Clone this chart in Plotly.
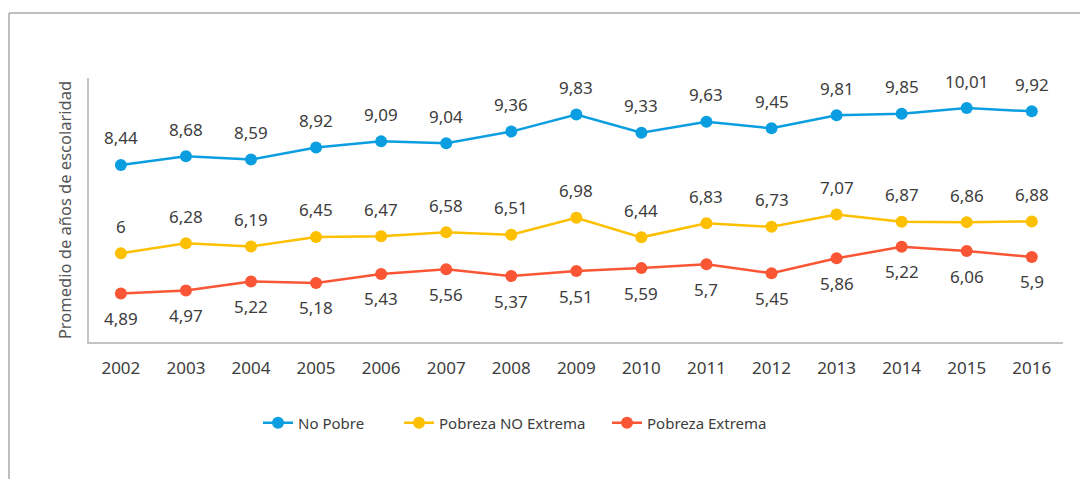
import plotly.graph_objects as go

years = [2002, 2003, 2004, 2005, 2006, 2007, 2008, 2009, 2010, 2011, 2012, 2013, 2014, 2015, 2016]

no_pobre = [8.44, 8.68, 8.59, 8.92, 9.09, 9.04, 9.36, 9.83, 9.33, 9.63, 9.45, 9.81, 9.85, 10.01, 9.92]
no_pobre_labels = ["8,44", "8,68", "8,59", "8,92", "9,09", "9,04", "9,36", "9,83", "9,33", "9,63", "9,45", "9,81", "9,85", "10,01", "9,92"]

pobreza_no_extrema = [6.0, 6.28, 6.19, 6.45, 6.47, 6.58, 6.51, 6.98, 6.44, 6.83, 6.73, 7.07, 6.87, 6.86, 6.88]
pobreza_no_extrema_labels = ["6", "6,28", "6,19", "6,45", "6,47", "6,58", "6,51", "6,98", "6,44", "6,83", "6,73", "7,07", "6,87", "6,86", "6,88"]

# plotted positions (2014 point is drawn at ~6.18 although labelled "5,22" in the original)
pobreza_extrema = [4.89, 4.97, 5.22, 5.18, 5.43, 5.56, 5.37, 5.51, 5.59, 5.70, 5.45, 5.86, 6.18, 6.06, 5.90]
pobreza_extrema_labels = ["4,89", "4,97", "5,22", "5,18", "5,43", "5,56", "5,37", "5,51", "5,59", "5,7", "5,45", "5,86", "5,22", "6,06", "5,9"]

series = [
    ("No Pobre", no_pobre, no_pobre_labels, "#0a9ee0", 27, "legend"),
    ("Pobreza NO Extrema", pobreza_no_extrema, pobreza_no_extrema_labels, "#fcc000", 27, "legend2"),
    ("Pobreza Extrema", pobreza_extrema, pobreza_extrema_labels, "#fa5535", -25, "legend3"),
]

FONT = "Noto Sans"
TEXT_COLOR = "#3d3d3d"

fig = go.Figure()
annotations = []
for name, vals, labels, color, shift, leg in series:
    fig.add_trace(go.Scatter(
        x=years, y=vals, name=name, mode="lines+markers",
        line=dict(color=color, width=2.5),
        marker=dict(color=color, size=12),
        legend=leg,
    ))
    for xv, yv, t in zip(years, vals, labels):
        annotations.append(dict(
            x=xv, y=yv, text=t, showarrow=False, yshift=shift,
            font=dict(family=FONT, size=17, color=TEXT_COLOR),
        ))

# page offset of the figure inside the browser window
OFF = 8
W, H = 1080, 471
PL, PR, PT, PB = 89, 1063, 78, 342   # plot area in window pixels
L = PL - OFF
T = PT - OFF
R = W - (PR - OFF)
B = H - (PB - OFF)
pw = PR - PL
ph = PB - PT

def px_x(x):
    return (x - PL) / pw

def px_y(y):
    return (PB - y) / ph

legend_common = dict(
    orientation="h", yanchor="middle", xanchor="left", y=px_y(423),
    font=dict(family=FONT, size=15, color=TEXT_COLOR),
    bgcolor="rgba(0,0,0,0)", borderwidth=0,
)

fig.update_layout(
    width=W, height=H, autosize=False,
    margin=dict(l=L, r=R, t=T, b=B),
    paper_bgcolor="white", plot_bgcolor="white",
    font=dict(family=FONT, color=TEXT_COLOR),
    showlegend=True,
    legend=dict(x=px_x(258), **legend_common),
    legend2=dict(x=px_x(399), **legend_common),
    legend3=dict(x=px_x(607), **legend_common),
    annotations=annotations,
    xaxis=dict(
        range=[2001.51, 2016.48], tickmode="array", tickvals=years,
        ticktext=[str(y) for y in years],
        showgrid=False, zeroline=False,
        showline=True, linecolor="#c4c4c4", linewidth=1.5,
        ticks="outside", ticklen=10, tickcolor="rgba(0,0,0,0)",
        tickfont=dict(family=FONT, size=17, color=TEXT_COLOR),
    ),
    yaxis=dict(
        range=[3.55, 10.84], showticklabels=False, ticks="",
        showgrid=False, zeroline=False,
        showline=True, linecolor="#c4c4c4", linewidth=1.5,
        title=dict(text="Promedio de años de escolaridad", standoff=11,
                   font=dict(family=FONT, size=16.5, color="#555555")),
    ),
    shapes=[
        dict(type="line", xref="paper", yref="paper",
             x0=px_x(9), x1=px_x(1100), y0=px_y(13), y1=px_y(13),
             line=dict(color="#a8a8a8", width=1.5)),
        dict(type="line", xref="paper", yref="paper",
             x0=px_x(9), x1=px_x(9), y0=px_y(13), y1=px_y(490),
             line=dict(color="#a8a8a8", width=1.5)),
    ],
)

fig.write_html("out.html")
